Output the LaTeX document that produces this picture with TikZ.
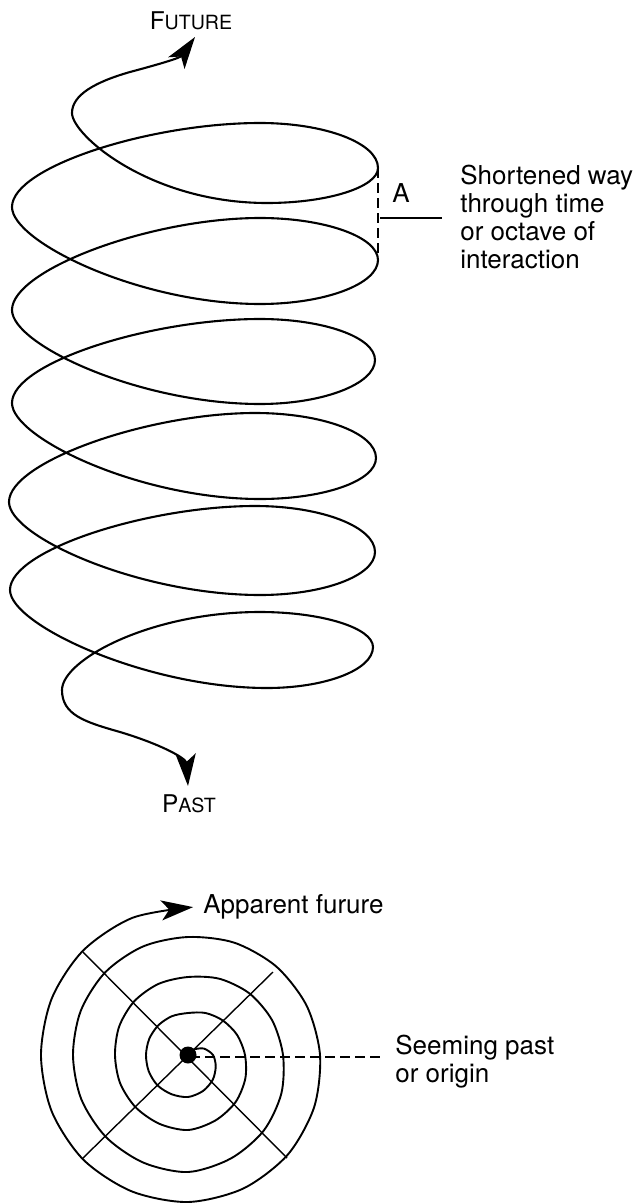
\documentclass[tikz,border=0pt]{standalone}
\usepackage{fontspec}
\setmainfont{TeX Gyre Heros}
\usetikzlibrary{arrows.meta}
\newcommand{\myfakesc}[2]{{\fontsize{12.2}{14}\selectfont #1}{\fontsize{9.8}{14}\selectfont #2}}
\tikzset{hd/.tip={Stealth[length=16pt,width=10pt,inset=4pt]}}
\begin{document}
\begin{tikzpicture}[x=0.5pt,y=-0.5pt,
  helix/.style={line width=1.05pt, line join=round},
  spir/.style={line width=0.95pt},
  ray/.style={line width=0.7pt},
  leader/.style={line width=0.6pt},
  dleader/.style={line width=0.6pt, dash pattern=on 5pt off 2.5pt},
  lbl/.style={inner sep=0pt, font=\fontsize{13}{14}\selectfont},
]
\useasboundingbox (0,0) rectangle (637,1204);

% ---------- helix ----------
\coordinate (ftip) at (195,37);
\coordinate (ptip) at (188,786);
\coordinate (R1) at (378,168);
\coordinate (R2) at (378,260);
\draw[helix, {hd}-{hd}] (ftip)
  .. controls (180,58) and (160,64) .. (130,72)
  .. controls (95,82) and (72,95) .. (72,113)
  .. controls (72,135) and (150,203) .. (267,203)
  .. controls (328,203) and (378,187) .. (R1)
  .. controls (378,143) and (325,123) .. (260,123)
  .. controls (150,123) and (12,167) .. (12,207)
  .. controls (12,242) and (140,304) .. (260,304)
  .. controls (325,304) and (378,284) .. (R2)
  .. controls (378,237) and (325,218) .. (260,218)
  .. controls (150,218) and (12,270) .. (12,310)
  .. controls (12,345) and (140,404) .. (260,404)
  .. controls (323,404) and (375,384) .. (375,360)
  .. controls (375,337) and (323,319) .. (260,319)
  .. controls (150,319) and (12,363) .. (12,403)
  .. controls (12,438) and (140,499) .. (260,499)
  .. controls (324,499) and (376,481) .. (376,458)
  .. controls (376,433) and (322,413) .. (255,413)
  .. controls (148,413) and (9,462) .. (9,502)
  .. controls (9,537) and (140,595) .. (260,595)
  .. controls (323,595) and (375,576) .. (375,552)
  .. controls (375,527) and (322,506) .. (255,506)
  .. controls (148,506) and (10,550) .. (10,590)
  .. controls (10,625) and (147,688) .. (267,688)
  .. controls (325,688) and (373,670) .. (373,647)
  .. controls (373,628) and (322,612) .. (260,612)
  .. controls (150,612) and (62,660) .. (62,690)
  .. controls (62,715) and (85,722) .. (120,732)
  .. controls (160,744) and (186,758) .. (ptip);

\node[inner sep=0pt, anchor=base] (future) at (191,30) {\myfakesc{F}{UTURE}};
\node[inner sep=0pt, anchor=base] (past) at (189,812) {\myfakesc{P}{AST}};

% A marker
\draw[dleader] (R1) -- (R2);
\coordinate (Amid) at (380,218);
\coordinate (Aend) at (442,218);
\draw[leader] (Amid) -- (Aend);
\node[lbl, anchor=base west] (A) at (392,202) {A};
\node[lbl, anchor=north west, align=left] (note) at (460,165)
  {Shortened way\\through time\\or octave of\\interaction};

% ---------- spiral ----------
\coordinate (c) at (188,1055);
\coordinate (d1a) at (83,952);
\coordinate (d1b) at (287,1158);
\coordinate (d2a) at (83,1158);
\coordinate (d2b) at (273,972);
\draw[ray] (d1a) -- (d1b);
\draw[ray] (d2a) -- (d2b);
\begin{scope}[shift={(188,1055)}]
\draw[spir, -{hd}] plot[smooth] coordinates {
 (-45:8) (-22.5:17) (0:25) (22.5:30) (45:35) (67.5:39) (90:42) (112.5:42.5)
 (135:43) (157.5:42.5) (180:42) (202.5:42) (225:42) (247.5:42) (270:42)
 (292.5:45.5) (315:49) (337.5:53) (360:57) (382.5:62) (405:67) (427.5:71)
 (450:75) (472.5:74.5) (495:74) (517.5:73.5) (540:73) (562.5:74.5) (585:76)
 (607.5:77) (630:78) (652.5:82.5) (675:87) (697.5:91) (720:95) (742.5:101)
 (765:107) (787.5:112) (810:117) (832.5:116.5) (855:116) (877.5:115.5)
 (900:115) (922.5:116) (945:117) (967.5:117.5) (990:118) (1012.5:121.5)
 (1035:125) (1057.5:128.5) (1080:132) (1102.5:136.5) (1125:141)
 (1147.5:144.5) (1170:147) (1192.5:147.5) (1215:148) (1237.5:147.5)
 (1260:147) (1282.5:147.5) (1305:148) (1328:148) (1352:148)};
\end{scope}
\node[circle, fill, minimum size=8.5pt, inner sep=0pt] (dot) at (c) {};
\coordinate (send) at (383,1057);
\coordinate (sstart) at (190,1057);
\draw[dleader] (sstart) -- (send);
\node[lbl, anchor=base west] (appf) at (203,913) {Apparent furure};
\node[lbl, anchor=north west, align=left] (seem) at (395,1035)
  {Seeming past\\or origin};
\end{tikzpicture}
\end{document}
